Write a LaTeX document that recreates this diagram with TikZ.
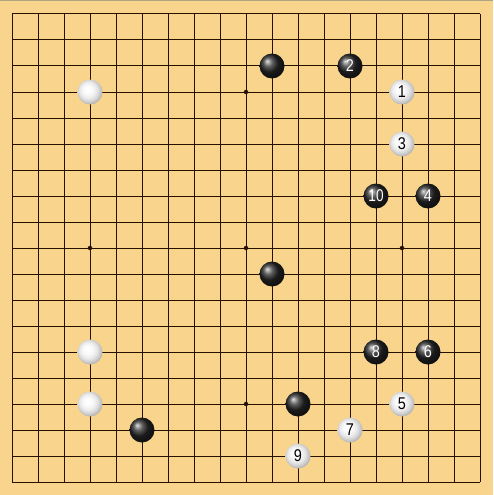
\documentclass[tikz,border=0pt]{standalone}
\usepackage{fontspec}
\newfontfamily\stonefont{Liberation Sans}
\definecolor{board}{RGB}{249,212,140}
\definecolor{gridc}{RGB}{40,16,0}
\definecolor{topedge}{RGB}{170,165,130}
\pgfdeclareradialshading{wball}{\pgfpoint{-6bp}{6bp}}{%
  color(0bp)=(white); color(9bp)=(white!98!black); color(17bp)=(white!91!black);
  color(24bp)=(white!78!black); color(31bp)=(white!60!black); color(50bp)=(white!55!black)}
\begin{document}
\begin{tikzpicture}[x=1pt,y=-1pt,
  gridline/.style={draw=gridc,line width=1pt},
  starpt/.style={circle,fill=gridc,inner sep=0pt,minimum size=4.5pt},
  bstone/.style={circle,inner sep=0pt,minimum size=25pt,ball color=black!85,text=white,font=\stonefont\fontsize{17}{17}\selectfont},
  wstone/.style={circle,inner sep=0pt,minimum size=25pt,shading=wball,text=black,font=\stonefont\fontsize{17}{17}\selectfont}]
\fill[board] (0,0) rectangle (493,495);
\useasboundingbox (0,0) rectangle (493,495);
\draw[topedge,line width=1pt] (0,0.5) -- (493,0.5);
% grid
\foreach \i in {0,...,18} {
  \draw[gridline] (12+26*\i,14) -- (12+26*\i,482);
  \draw[gridline] (12,14+26*\i) -- (480,14+26*\i);
}
% star points
\foreach \c/\r [count=\k] in {9/3,3/9,9/9,15/9,9/15}
  \node[starpt] (star\k) at (12+26*\c,14+26*\r) {};
% unnumbered stones
\node[bstone] (b1) at (12+26*10,14+26*2) {};
\node[wstone] (w1) at (12+26*3,14+26*3) {};
\node[bstone] (b2) at (12+26*10,14+26*10) {};
\node[wstone] (w2) at (12+26*3,14+26*13) {};
\node[wstone] (w3) at (12+26*3,14+26*15) {};
\node[bstone] (b3) at (12+26*11,14+26*15) {};
\node[bstone] (b4) at (12+26*5,14+26*16) {};
% numbered stones
\node[wstone] (m1) at (12+26*15,14+26*3) {\scalebox{0.85}[1]{1}};
\node[bstone] (m2) at (12+26*13,14+26*2) {\scalebox{0.85}[1]{2}};
\node[wstone] (m3) at (12+26*15,14+26*5) {\scalebox{0.85}[1]{3}};
\node[bstone] (m4) at (12+26*16,14+26*7) {\scalebox{0.85}[1]{4}};
\node[wstone] (m5) at (12+26*15,14+26*15) {\scalebox{0.85}[1]{5}};
\node[bstone] (m6) at (12+26*16,14+26*13) {\scalebox{0.85}[1]{6}};
\node[wstone] (m7) at (12+26*13,14+26*16) {\scalebox{0.85}[1]{7}};
\node[bstone] (m8) at (12+26*14,14+26*13) {\scalebox{0.85}[1]{8}};
\node[wstone] (m9) at (12+26*11,14+26*17) {\scalebox{0.85}[1]{9}};
\node[bstone] (m10) at (12+26*14,14+26*7) {\scalebox{0.8}[1]{10}};
\end{tikzpicture}
\end{document}
